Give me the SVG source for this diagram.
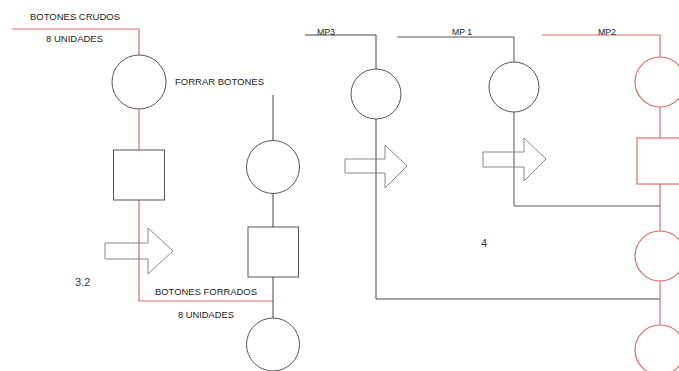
<svg xmlns="http://www.w3.org/2000/svg" width="679" height="371" viewBox="0 0 679 371">
<style>
.t{font-family:"Liberation Sans",Arial,sans-serif;font-size:9px;fill:#222}
.n{font-family:"Liberation Sans",Arial,sans-serif;font-size:11px;fill:#1f3a5f}
.r{stroke:#e06a6a;fill:none;stroke-width:1.2}
.k{stroke:#444;fill:none;stroke-width:1}
.g{stroke:#555;fill:none;stroke-width:1}
.sh{stroke:#555;fill:#fff;stroke-width:1}
.shr{stroke:#e06a6a;fill:#fff;stroke-width:1.2}
.ar{stroke:#888;fill:none;stroke-width:1}
</style>
<rect width="679" height="371" fill="#fff"/>
<g id="connectors">
<polyline class="r" points="12,29 139,29 139,301 273,301"/>
<line class="k" x1="273" y1="95" x2="273" y2="330"/>
<polyline class="k" points="305,35 376,35 376,299 660,299"/>
<polyline class="g" points="397,37 514,37 514,206 660,206"/>
<polyline class="r" points="542,35 660,35 660,360"/>
</g>
<g id="n1"><circle class="sh" cx="139" cy="82" r="27"/></g>
<g id="n2"><rect class="sh" x="113.5" y="150" width="51" height="50"/></g>
<g id="arrow1"><polygon class="ar" points="105,243 148,243 148,228 173,251 148,274 148,259 105,259"/></g>
<g id="n3"><circle class="sh" cx="273" cy="167" r="26.5"/></g>
<g id="n4"><rect class="sh" x="248" y="227" width="50.5" height="50"/></g>
<g id="n5"><circle class="sh" cx="273" cy="344.5" r="26.5"/></g>
<g id="n6"><circle class="sh" cx="376" cy="94" r="25"/></g>
<g id="arrow2"><polygon class="ar" points="345,159 385,159 385,145 407,166 385,188 385,173 345,173"/></g>
<g id="n7"><circle class="sh" cx="514" cy="87" r="25"/></g>
<g id="arrow3"><polygon class="ar" points="483,152 524,152 524,138 546,159 524,181 524,167 483,167"/></g>
<g id="n8"><circle class="shr" cx="660" cy="82" r="25"/></g>
<g id="n9"><rect class="shr" x="637" y="138" width="50" height="46"/></g>
<g id="n10"><circle class="shr" cx="660" cy="256" r="25"/></g>
<g id="n11"><circle class="shr" cx="660" cy="350" r="25"/></g>
<g id="labels">
<text class="t" x="30" y="20" textLength="90" lengthAdjust="spacingAndGlyphs">BOTONES CRUDOS</text>
<text class="t" x="46" y="42" textLength="57" lengthAdjust="spacingAndGlyphs">8 UNIDADES</text>
<text class="t" x="175" y="85" textLength="89" lengthAdjust="spacingAndGlyphs">FORRAR BOTONES</text>
<text class="t" x="155" y="295" textLength="102" lengthAdjust="spacingAndGlyphs">BOTONES FORRADOS</text>
<text class="t" x="178" y="318" textLength="56" lengthAdjust="spacingAndGlyphs">8 UNIDADES</text>
<text class="t" x="317" y="35" textLength="18" lengthAdjust="spacingAndGlyphs">MP3</text>
<text class="t" x="452" y="35" textLength="20" lengthAdjust="spacingAndGlyphs">MP 1</text>
<text class="t" x="598" y="35" textLength="18" lengthAdjust="spacingAndGlyphs">MP2</text>
<text class="n" x="75" y="286">3.2</text>
<text class="n" x="481" y="247">4</text>
</g>
</svg>
